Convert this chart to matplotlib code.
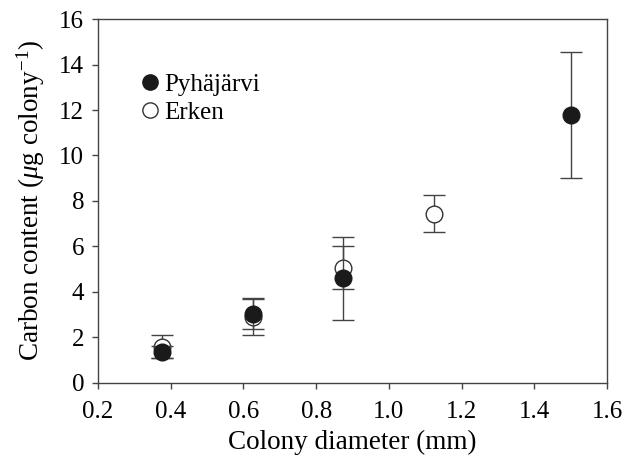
import numpy as np
import matplotlib
matplotlib.use("Agg")
import matplotlib.pyplot as plt
from matplotlib.lines import Line2D

plt.rcParams['font.family'] = ['Liberation Serif', 'DejaVu Serif']
plt.rcParams['mathtext.fontset'] = 'custom'
plt.rcParams['mathtext.it'] = 'Liberation Serif:italic'
plt.rcParams['mathtext.rm'] = 'Liberation Serif'

# Pyhäjärvi
pyh_x = [0.375, 0.625, 0.875, 1.5]
pyh_y = [1.35, 3.05, 4.60, 11.78]
pyh_err = [0.27, 0.68, 1.83, 2.78]

# Erken
erk_x = [0.375, 0.625, 0.875, 1.125]
erk_y = [1.60, 2.90, 5.07, 7.44]
erk_err = [0.50, 0.80, 0.95, 0.82]

fig = plt.figure(figsize=(6.24, 4.58), dpi=100)
ax = fig.add_axes([0.157, 0.1638, 0.816, 0.7947])

ax.errorbar(erk_x, erk_y, yerr=erk_err, fmt='o', ms=12, mfc='white', mec='#333333',
            mew=1.0, ecolor='#444444', elinewidth=1.0, capsize=8, capthick=1.0, zorder=2)
ax.errorbar(pyh_x, pyh_y, yerr=pyh_err, fmt='o', ms=12, mfc='#1a1a1a', mec='#1a1a1a',
            ecolor='#444444', elinewidth=1.0, capsize=8, capthick=1.0, zorder=3)

ax.set_xlim(0.2, 1.6)
ax.set_ylim(0, 16)
ax.set_xticks(np.arange(0.2, 1.61, 0.2))
ax.set_yticks(np.arange(0, 17, 2))
ax.set_xticklabels(['%.1f' % v for v in np.arange(0.2, 1.61, 0.2)])
ax.tick_params(direction='out', length=4, labelsize=18, color='#444444', width=1.0, pad=6)
ax.tick_params(axis='x', pad=9)
for s in ax.spines.values():
    s.set_color('#444444')
    s.set_linewidth(1.0)

ax.set_xlabel('Colony diameter (mm)', fontsize=19.5, labelpad=5)
ax.set_ylabel(r'Carbon content ($\mu$g colony$^{-1}$)', fontsize=19.5, labelpad=9)

handles = [Line2D([], [], ls='none', marker='o', ms=11, mfc='#1a1a1a', mec='#1a1a1a'),
           Line2D([], [], ls='none', marker='o', ms=11, mfc='white', mec='#333333', mew=1.0)]
ax.legend(handles, ['Pyhäjärvi', 'Erken'], loc='upper left', bbox_to_anchor=(0.072, 0.85),
          frameon=False, fontsize=18, handletextpad=0.0, labelspacing=0.2, handlelength=1.2,
          borderpad=0, borderaxespad=0)

fig.savefig('out.png', dpi=100)
